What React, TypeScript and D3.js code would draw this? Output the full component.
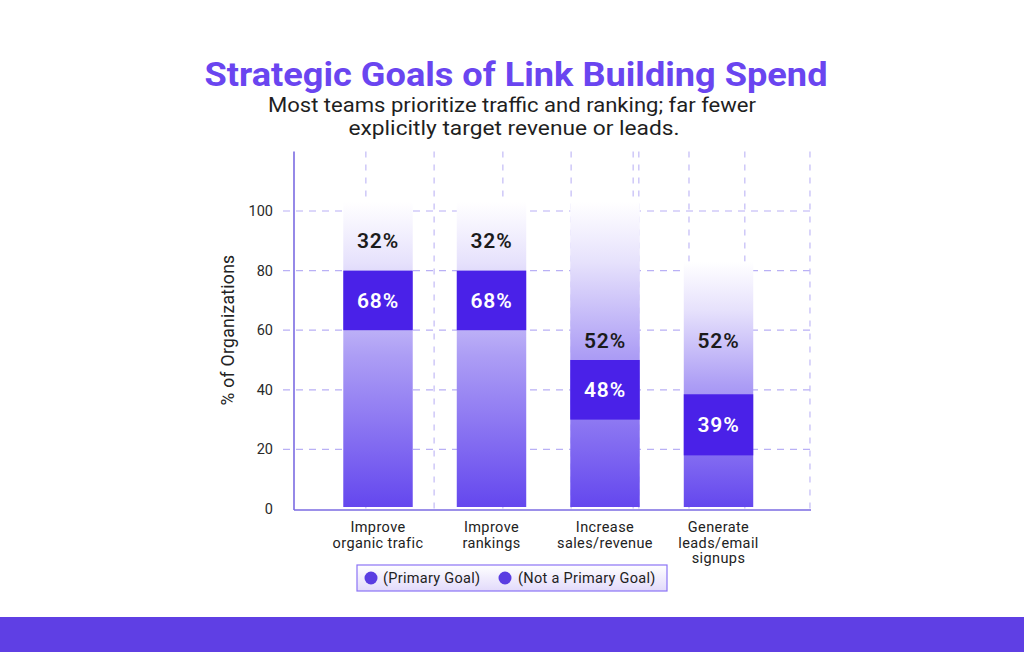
import React from 'react';
import * as d3 from 'd3';

// chart data
const categories = ['Improve organic trafic', 'Improve rankings', 'Increase sales/revenue', 'Generate leads/email signups'];
const categoryLines = [
  ['Improve', 'organic trafic'],
  ['Improve', 'rankings'],
  ['Increase', 'sales/revenue'],
  ['Generate', 'leads/email', 'signups'],
];
const primaryGoal = [68, 68, 48, 39];
const notPrimaryGoal = [32, 32, 52, 52];
// how the designer drew each bar, in % units
const bandLow = [60, 60, 30, 18];
const bandHigh = [80, 80, 50, 38.5];
const fadeTop = [103, 103, 103, 83];
const notPrimaryLabelAt = [90, 90, 56.5, 56.5];
const yTicks = [0, 20, 40, 60, 80, 100];
// vertical dashed gridlines, as share of the plot width
const xGridLines = [0.139, 0.271, 0.404, 0.536, 0.656, 0.667, 0.764, 0.872, 0.998];

const W = 1024;
const H = 652;
const FONT = 'Roboto, "Noto Sans", sans-serif';

export default function App() {
  const plotLeft = 294;
  const plotRight = 811;

  const y = d3.scaleLinear().domain([0, 100]).range([509, 211]);
  const x = d3.scaleBand<string>()
    .domain(categories)
    .range([321.25, 775.25])
    .paddingInner(0.388)
    .paddingOuter(0.194);
  const gx = d3.scaleLinear().domain([0, 1]).range([plotLeft, plotRight]);
  const axisTop = y(120);

  return (
    <svg width={W} height={H} style={{ position: 'absolute', left: 0, top: 0, background: '#fff' }}>
      <defs>
        <linearGradient id="barFade" x1="0" y1="1" x2="0" y2="0">
          <stop offset="0" stopColor="#6447ee" />
          <stop offset="0.5" stopColor="#ad9ef5" />
          <stop offset="0.8" stopColor="#e6e1fc" />
          <stop offset="1" stopColor="#ffffff" />
        </linearGradient>
        <linearGradient id="legendFill" x1="0" y1="0" x2="0" y2="1">
          <stop offset="0" stopColor="#ffffff" />
          <stop offset="1" stopColor="#e2dafb" />
        </linearGradient>
      </defs>

      {/* Title */}
      <text x={516} y={86} textAnchor="middle" fontFamily={FONT} fontWeight={700} fontSize={34}
        fill="#6a45f0" textLength={623} lengthAdjust="spacingAndGlyphs">
        Strategic Goals of Link Building Spend
      </text>
      <text x={512} y={112} textAnchor="middle" fontFamily={FONT} fontSize={20} fill="#1f1f1f"
        textLength={488} lengthAdjust="spacingAndGlyphs">
        Most teams prioritize traffic and ranking; far fewer
      </text>
      <text x={514} y={135} textAnchor="middle" fontFamily={FONT} fontSize={20} fill="#1f1f1f"
        textLength={331} lengthAdjust="spacingAndGlyphs">
        explicitly target revenue or leads.
      </text>

      {/* Grid */}
      {yTicks.filter(t => t > 0).map(t => (
        <line key={'h' + t} x1={283} x2={plotRight} y1={y(t)} y2={y(t)}
          stroke="#b9b0f5" strokeWidth={1.2} strokeDasharray="7 6" />
      ))}
      {xGridLines.map((g, i) => (
        <line key={'v' + i} x1={gx(g)} x2={gx(g)} y1={axisTop} y2={y(0)}
          stroke="#c2baf6" strokeWidth={1.2} strokeDasharray="6 7" />
      ))}

      {/* Bars */}
      {categories.map((c, i) => {
        const bx = x(c)!;
        const bw = x.bandwidth();
        const cx = bx + bw / 2;
        return (
          <g key={c}>
            <rect x={bx} y={y(fadeTop[i])} width={bw} height={y(0) - 2 - y(fadeTop[i])} fill="url(#barFade)" />
            <rect x={bx} y={y(bandHigh[i])} width={bw} height={y(bandLow[i]) - y(bandHigh[i])} fill="#4a21e8" />
            <text x={cx} y={y((bandLow[i] + bandHigh[i]) / 2)} dy="0.36em" textAnchor="middle"
              fontFamily={FONT} fontWeight={600} fontSize={21} letterSpacing={0.8} fill="#ffffff">
              {primaryGoal[i]}%
            </text>
            <text x={cx} y={y(notPrimaryLabelAt[i])} dy="0.36em" textAnchor="middle"
              fontFamily={FONT} fontWeight={600} fontSize={21} letterSpacing={0.8} fill="#1b1b1b">
              {notPrimaryGoal[i]}%
            </text>
            {categoryLines[i].map((ln, j) => (
              <text key={j} x={cx} y={532 + j * 15.5} textAnchor="middle" fontFamily={FONT}
                fontSize={14.5} letterSpacing={0.4} fill="#222">
                {ln}
              </text>
            ))}
          </g>
        );
      })}

      {/* Axes */}
      <line x1={plotLeft} x2={plotLeft} y1={axisTop} y2={y(0) + 1} stroke="#7b6be2" strokeWidth={1.6} />
      <line x1={plotLeft} x2={plotRight} y1={y(0) + 1} y2={y(0) + 1} stroke="#7b6be2" strokeWidth={1.6} />
      {yTicks.map(t => (
        <text key={'t' + t} x={273} y={y(t)} dy="0.35em" textAnchor="end" fontFamily={FONT}
          fontSize={14.5} fill="#2a2a2a">
          {t}
        </text>
      ))}
      <text transform={`translate(234,${330}) rotate(-90)`} textAnchor="middle" fontFamily={FONT}
        fontSize={17.5} letterSpacing={0.3} fill="#222">
        % of Organizations
      </text>

      {/* Legend */}
      <rect x={357} y={565} width={310} height={26} fill="url(#legendFill)" stroke="#8b73f6" strokeWidth={1.2} />
      <circle cx={371} cy={578} r={6.5} fill="#5a3de2" />
      <text x={383} y={578} dy="0.35em" fontFamily={FONT} fontSize={14.5} letterSpacing={0.3} fill="#222">(Primary Goal)</text>
      <circle cx={505} cy={578} r={6.5} fill="#5a3de2" />
      <text x={518} y={578} dy="0.35em" fontFamily={FONT} fontSize={14.5} letterSpacing={0.3} fill="#222">(Not a Primary Goal)</text>

      {/* Footer band */}
      <rect x={0} y={617} width={W} height={H - 617} fill="#5f3fe4" />
    </svg>
  );
}
